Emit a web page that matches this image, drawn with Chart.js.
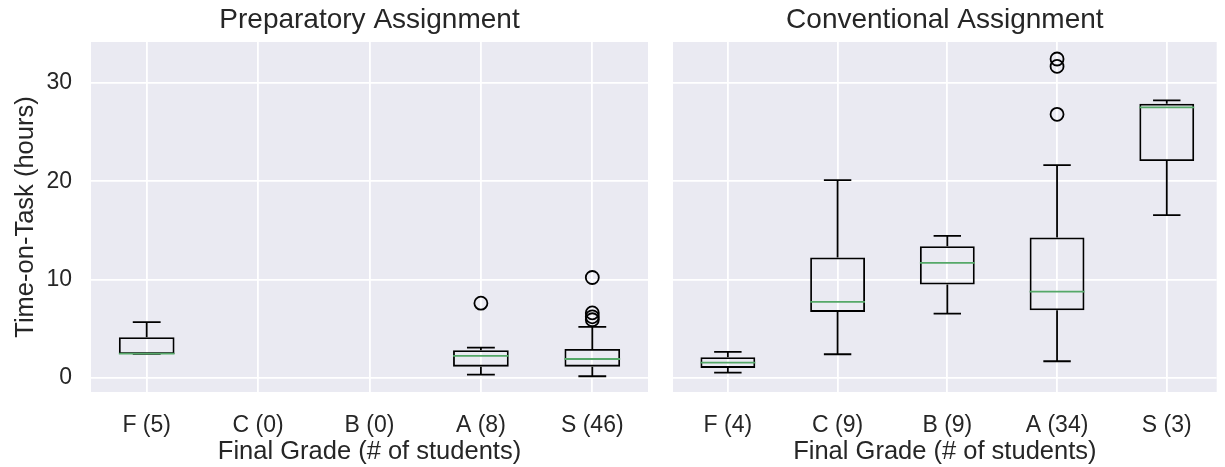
<!DOCTYPE html>
<html><head><meta charset="utf-8">
<script src="https://cdn.jsdelivr.net/npm/chart.js@4.4.1/dist/chart.umd.min.js"></script>
<style>
html,body{margin:0;padding:0;background:#fff;width:1225px;height:467px;overflow:hidden}
#c1{position:absolute;left:0;top:0}
#c2{position:absolute;left:660px;top:0}
</style></head><body>
<canvas id="c1" width="660" height="467"></canvas>
<canvas id="c2" width="565" height="467"></canvas>
<script>
// ---- data ----
const categories = ['F', 'C', 'B', 'A', 'S'];
const prepCounts = [5, 0, 0, 8, 46];
const convCounts = [4, 9, 9, 34, 3];
const yTicks = [0, 10, 20, 30];

const prepLow  = [2.42, null, null, 0.32, 0.15];
const prepQ1   = [2.42, null, null, 1.13, 1.13];
const prepMed  = [2.46, null, null, 2.22, 1.91];
const prepQ3   = [4.12, null, null, 2.80, 2.93];
const prepHigh = [5.65, null, null, 3.07, 5.17];
const prepOutliers = [[], [], [], [7.59], [5.9, 6.2, 6.6, 10.2]];

const convLow  = [0.52, 2.39, 6.53, 1.68, 16.55];
const convQ1   = [1.00, 6.70, 9.48, 6.87, 22.04];
const convMed  = [1.54, 7.72, 11.69, 8.77, 27.50];
const convQ3   = [2.09, 12.23, 13.39, 14.27, 27.88];
const convHigh = [2.63, 20.11, 14.44, 21.64, 28.22];
const convOutliers = [[], [], [], [26.8, 31.68, 32.43], []];

// ---- style ----
const FAMILY = "'Liberation Sans', Arial, sans-serif";
const TEXT = '#262626';
const GREEN = '#55a868';
const LW = 1.8;
const BOX_HALF = 0.25, CAP_HALF = 0.125;

const bgPlugin = {
  id: 'bg',
  beforeDraw(chart) {
    const {ctx, chartArea: a} = chart;
    ctx.save();
    ctx.fillStyle = '#EAEAF2';
    ctx.fillRect(a.left, a.top, a.width, a.height);
    ctx.restore();
  }
};

function boxDatasets(low, q1, med, q3, high, outs) {
  const idx = categories.map((c, i) => i).filter(i => q1[i] !== null);
  const boxes = idx.map(i => ({x: i + 1, y: [q1[i], q3[i]]}));
  const whisk = [], caps = [], meds = [], pts = [];
  idx.forEach(i => {
    const x = i + 1;
    whisk.push({x, y: q3[i]}, {x, y: high[i]}, {x, y: null}, {x, y: low[i]}, {x, y: q1[i]}, {x, y: null});
    caps.push({x: x - CAP_HALF, y: high[i]}, {x: x + CAP_HALF, y: high[i]}, {x, y: null},
              {x: x - CAP_HALF, y: low[i]}, {x: x + CAP_HALF, y: low[i]}, {x, y: null});
    meds.push({x: x - BOX_HALF, y: med[i]}, {x: x + BOX_HALF, y: med[i]}, {x, y: null});
  });
  outs.forEach((arr, i) => arr.forEach(v => pts.push({x: i + 1, y: v})));
  const lineStyle = {borderColor: '#000', borderWidth: LW, pointRadius: 0, spanGaps: false, tension: 0, fill: false};
  return [
    Object.assign({type: 'line', data: meds}, lineStyle, {borderColor: GREEN}),
    Object.assign({type: 'line', data: caps}, lineStyle),
    Object.assign({type: 'line', data: whisk}, lineStyle),
    {type: 'scatter', data: pts, showLine: false, pointStyle: 'circle', pointRadius: 6.5,
     pointBorderWidth: LW, pointBorderColor: '#000', pointBackgroundColor: 'rgba(0,0,0,0)'},
    {type: 'bar', data: boxes, backgroundColor: 'rgba(0,0,0,0)', borderColor: '#000', borderWidth: LW,
     borderSkipped: false, categoryPercentage: 1, barPercentage: 2 * BOX_HALF}
  ];
}

function makeChart(id, title, counts, stats, opts) {
  const tickLabels = categories.map((c, i) => c + ' (' + counts[i] + ')');
  return new Chart(document.getElementById(id), {
    type: 'bar',
    data: {datasets: boxDatasets(...stats)},
    plugins: [bgPlugin],
    options: {
      responsive: false, animation: false, devicePixelRatio: 1,
      layout: {padding: {left: 0, right: opts.padRight, top: 0, bottom: 0}},
      plugins: {
        legend: {display: false}, tooltip: {enabled: false},
        title: {display: true, text: title, fullSize: false, color: TEXT,
                font: {family: FAMILY, size: 28, weight: 'normal'}, padding: {top: 3, bottom: 5.4}}
      },
      scales: {
        x: {
          type: 'linear', min: 0.5, max: opts.xMax, bounds: 'data', offset: false,
          afterBuildTicks: s => { s.ticks = categories.map((c, i) => ({value: i + 1})); },
          afterFit: s => { s.height = 75; },
          grid: {color: '#ffffff', lineWidth: LW, drawTicks: false, offset: false},
          border: {display: false},
          ticks: {padding: 19.5, color: TEXT, font: {family: FAMILY, size: 23}, maxRotation: 0, autoSkip: false,
                  callback: (v, i) => tickLabels[i]},
          title: {display: true, text: 'Final Grade (# of students)', color: TEXT,
                  font: {family: FAMILY, size: 25.5}, padding: {top: 0, bottom: 0}}
        },
        y: {
          type: 'linear', min: -1.45, max: 34.16, bounds: 'data',
          afterBuildTicks: s => { s.ticks = yTicks.map(v => ({value: v})); },
          afterFit: s => { s.width = opts.yWidth; },
          grid: {color: '#ffffff', lineWidth: LW, drawTicks: false},
          border: {display: false},
          ticks: {display: opts.showY, padding: 19, color: TEXT, font: {family: FAMILY, size: 23}},
          title: {display: opts.showY, text: 'Time-on-Task (hours)', color: TEXT,
                  font: {family: FAMILY, size: 25.5}, padding: {top: 10.7}}
        }
      }
    }
  });
}

makeChart('c1', 'Preparatory Assignment', prepCounts,
  [prepLow, prepQ1, prepMed, prepQ3, prepHigh, prepOutliers],
  {padRight: 12, xMax: 5.5, yWidth: 91, showY: true});
makeChart('c2', 'Conventional Assignment', convCounts,
  [convLow, convQ1, convMed, convQ3, convHigh, convOutliers],
  {padRight: 0, xMax: 5.455, yWidth: 13, showY: false});
</script>
</body></html>
